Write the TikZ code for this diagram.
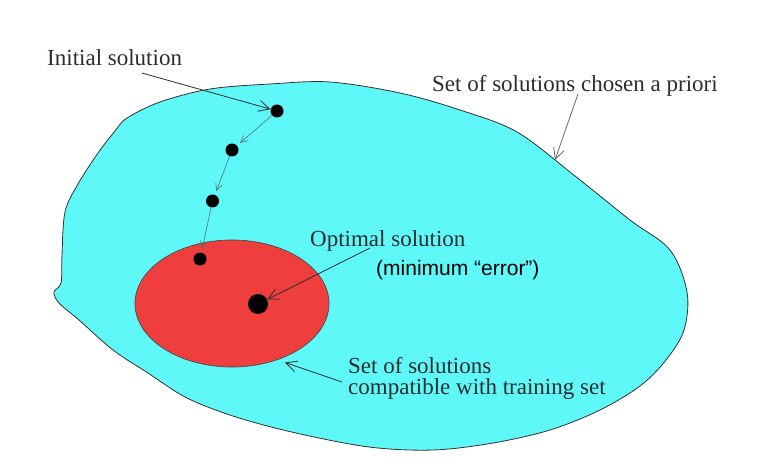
\documentclass[tikz,border=0pt]{standalone}
\usepackage{fontspec}
\setmainfont{Liberation Serif}
\newfontfamily\armfont{Liberation Sans}
\usetikzlibrary{arrows.meta}
\definecolor{blobcyan}{RGB}{94,248,248}
\definecolor{setred}{RGB}{238,62,62}
\definecolor{txtgray}{RGB}{45,45,45}
\definecolor{pathgray}{RGB}{90,110,110}
\tikzset{
  lbl/.style={font=\fontsize{23}{21}\selectfont, text=txtgray, inner sep=0pt, anchor=base west},
  pt/.style={circle, fill=black, inner sep=0pt, minimum size=13pt},
  bigpt/.style={circle, fill=black, inner sep=0pt, minimum size=20pt},
  callout/.style={draw=txtgray, line width=0.8pt, -{Straight Barb[length=11pt,width=11pt,line width=0.8pt]}},
  stepline/.style={draw=pathgray, line width=0.6pt, shorten >=4pt, -{Straight Barb[length=7pt,width=7pt,line width=0.6pt]}}
}
\begin{document}
\begin{tikzpicture}[x=1pt,y=-1pt]
\useasboundingbox (0,0) rectangle (768,473);
\fill[white] (0,0) rectangle (768,473);
% outer set
\draw[fill=blobcyan, draw=black!80, line width=0.8pt] plot[smooth cycle, tension=0.55] coordinates {
 (127,118) (160,102) (210,89) (270,84) (330,82) (400,93) (460,110) (517,132)
 (575,176) (630,220) (670,250) (687,292) (684,330) (666,360) (640,386)
 (600,410) (550,430) (493,443) (433,450) (369,447) (296,433)
 (236,417) (187,398) (148,373) (113,350) (79,320) (59,303) (54,292) (61,283)
 (62,255) (65,212) (78,184) (98,153) (115,131)};
% compatible set
\draw[fill=setred, draw=black!70, line width=0.7pt] (232,303.5) ellipse [x radius=97, y radius=63.5];
% dots
\node[pt] (d1) at (277,111) {};
\node[pt] (d2) at (232,150) {};
\node[pt] (d3) at (212.5,201) {};
\node[pt] (d4) at (200,259) {};
\node[bigpt] (opt) at (258,304) {};
\draw[stepline] (d1) -- (d2);
\draw[stepline] (d2) -- (d3);
\draw[stepline] (d3) -- (d4);
% labels
\node[lbl] (linit) at (47,66) {Initial solution};
\node[lbl] (lprior) at (432,91.5) {Set of solutions chosen a priori};
\node[lbl] (lopt) at (310,246.5) {Optimal solution};
\node[font=\armfont\fontsize{21}{22}\selectfont, text=black, inner sep=0pt, anchor=base west] (lerr) at (376,275.5) {(minimum “error”)};
\node[lbl, align=left] (lcomp) at (348,394) {Set of solutions\\compatible with training set};
% callouts
\coordinate (ainit) at (142,73);
\coordinate (aprior) at (578,94);
\coordinate (aprtip) at (555,160);
\coordinate (aopt) at (370,248);
\coordinate (acomp) at (342,382);
\coordinate (acomptip) at (285,362.5);
\draw[callout] (ainit) -- (d1);
\draw[callout, draw=black!60] (aprior) -- (aprtip);
\draw[callout] (aopt) -- (opt);
\draw[callout] (acomp) -- (acomptip);
\end{tikzpicture}
\end{document}
